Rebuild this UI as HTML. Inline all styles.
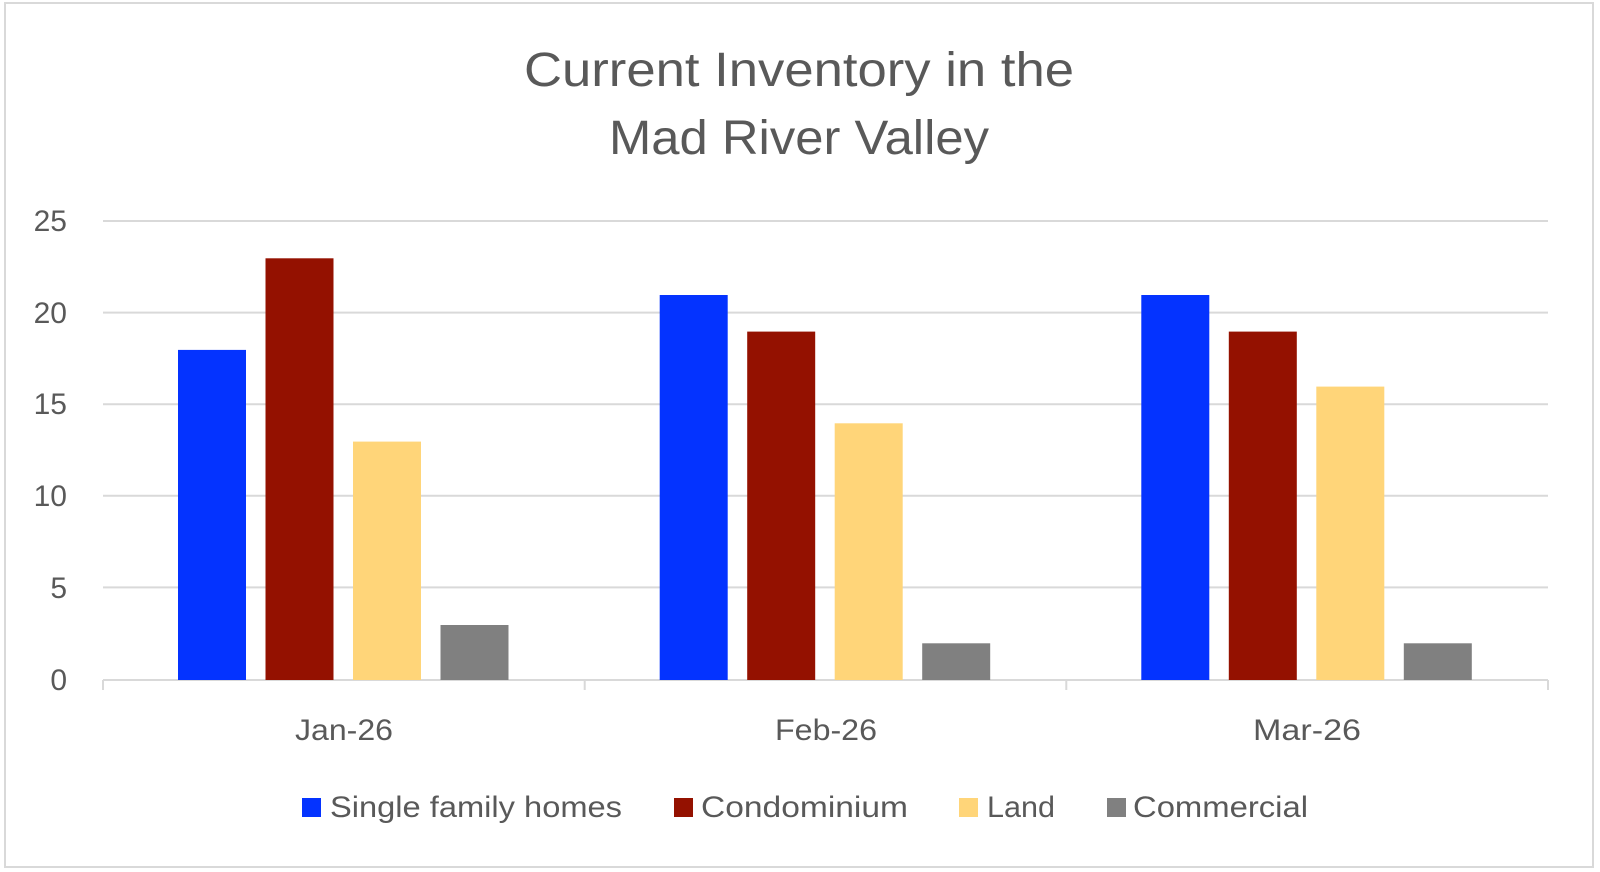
<!DOCTYPE html>
<html><head><meta charset="utf-8"><style>
html,body{margin:0;padding:0;background:#fff;}
svg{display:block;font-family:"Liberation Sans",sans-serif;}
</style></head><body>
<svg width="1600" height="872" viewBox="0 0 1600 872" xmlns="http://www.w3.org/2000/svg">
<rect x="5" y="3" width="1588" height="864" fill="#fff" stroke="#d9d9d9" stroke-width="2"/>
<text x="799" y="86" text-anchor="middle" font-size="48" fill="#595959" textLength="550" lengthAdjust="spacingAndGlyphs">Current Inventory in the</text>
<text x="799" y="154" text-anchor="middle" font-size="48" fill="#595959" textLength="380" lengthAdjust="spacingAndGlyphs">Mad River Valley</text>
<g stroke="#d9d9d9" stroke-width="2">
<line x1="103" x2="1548" y1="221" y2="221"/>
<line x1="103" x2="1548" y1="312.6" y2="312.6"/>
<line x1="103" x2="1548" y1="404.2" y2="404.2"/>
<line x1="103" x2="1548" y1="495.8" y2="495.8"/>
<line x1="103" x2="1548" y1="587.4" y2="587.4"/>
<line x1="103" x2="1548" y1="680" y2="680"/>
<line x1="103" x2="103" y1="680" y2="690"/>
<line x1="584.7" x2="584.7" y1="680" y2="690"/>
<line x1="1066.3" x2="1066.3" y1="680" y2="690"/>
<line x1="1548" x2="1548" y1="680" y2="690"/>
</g>
<g font-size="30" fill="#595959" text-anchor="end">
<text x="67" y="231">25</text>
<text x="67" y="323">20</text>
<text x="67" y="414">15</text>
<text x="67" y="506">10</text>
<text x="67" y="598">5</text>
<text x="67" y="690">0</text>
</g>
<g>
<rect x="178" y="349.9" width="68" height="330.1" fill="#0433ff"/>
<rect x="265.5" y="258.3" width="68" height="421.7" fill="#941100"/>
<rect x="353" y="441.6" width="68" height="238.4" fill="#ffd579"/>
<rect x="440.5" y="625" width="68" height="55" fill="#808080"/>

<rect x="659.7" y="295" width="68" height="385" fill="#0433ff"/>
<rect x="747.2" y="331.6" width="68" height="348.4" fill="#941100"/>
<rect x="834.7" y="423.3" width="68" height="256.7" fill="#ffd579"/>
<rect x="922.2" y="643.3" width="68" height="36.7" fill="#808080"/>

<rect x="1141.3" y="295" width="68" height="385" fill="#0433ff"/>
<rect x="1228.8" y="331.6" width="68" height="348.4" fill="#941100"/>
<rect x="1316.3" y="386.6" width="68" height="293.4" fill="#ffd579"/>
<rect x="1403.8" y="643.3" width="68" height="36.7" fill="#808080"/>
</g>
<g font-size="30" fill="#595959" text-anchor="middle">
<text x="344" y="740" textLength="98" lengthAdjust="spacingAndGlyphs">Jan-26</text>
<text x="826" y="740" textLength="102" lengthAdjust="spacingAndGlyphs">Feb-26</text>
<text x="1307" y="740" textLength="108" lengthAdjust="spacingAndGlyphs">Mar-26</text>
</g>
<g font-size="30" fill="#595959">
<rect x="302" y="798" width="19" height="19" fill="#0433ff"/>
<text x="330" y="817" textLength="292" lengthAdjust="spacingAndGlyphs">Single family homes</text>
<rect x="674" y="798" width="19" height="19" fill="#941100"/>
<text x="701" y="817" textLength="207" lengthAdjust="spacingAndGlyphs">Condominium</text>
<rect x="959" y="798" width="19" height="19" fill="#ffd579"/>
<text x="987" y="817" textLength="68" lengthAdjust="spacingAndGlyphs">Land</text>
<rect x="1107" y="798" width="19" height="19" fill="#808080"/>
<text x="1133" y="817" textLength="175" lengthAdjust="spacingAndGlyphs">Commercial</text>
</g>
</svg>
</body></html>
